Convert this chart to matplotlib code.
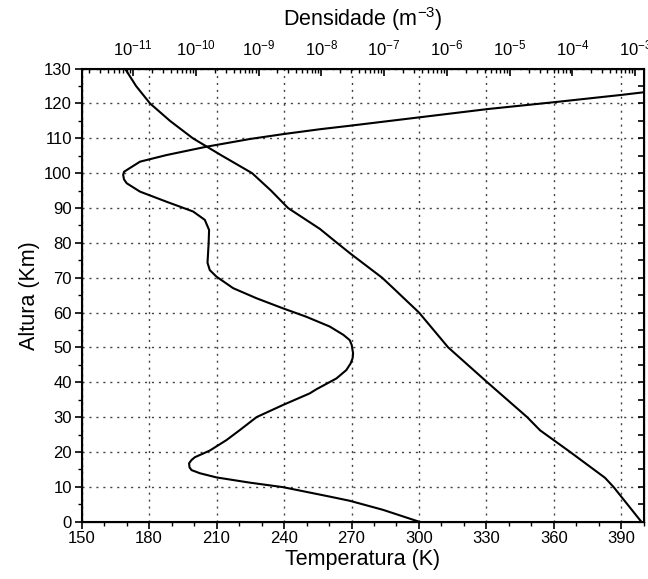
import numpy as np
import matplotlib.pyplot as plt
from matplotlib.ticker import MultipleLocator, FixedLocator, LogLocator, NullFormatter

plt.rcParams['font.family'] = ['Liberation Sans', 'DejaVu Sans']
plt.rcParams['mathtext.fontset'] = 'custom'
plt.rcParams['mathtext.rm'] = 'Liberation Sans'
plt.rcParams['mathtext.default'] = 'regular'

# temperature profile (K) vs altitude (km)
temp_alt = [0, 3.4, 6.0, 7.2, 9.9, 11.2, 12.7, 13.9, 14.8, 15.6, 16.75, 17.7, 18.5, 20.4, 23.4,
            26.3, 30.0, 33.5, 36.8, 38.0, 41.1, 43.5, 45.4, 46.9, 48.3, 50.7, 52.1, 53.6, 56.0,
            58.8, 61.2, 64.1, 67.0, 70.3, 72.2, 74.3, 79.9, 83.7, 86.6, 89.0, 91.8, 94.7, 97.1,
            98.2, 99.5, 100.4, 100.9, 103.3, 105.2, 107.6, 109.8, 111.2, 112.6, 113.6, 116.0,
            118.4, 120.4, 122.5, 123.6]
temp_val = [300, 284.0, 269.2, 260.3, 239.6, 224.8, 210.0, 202.6, 198.9, 198.0, 197.8, 198.9,
            200.4, 207.0, 214.4, 220.4, 227.8, 239.6, 251.4, 254.4, 263.3, 267.7, 269.6, 270.5,
            270.7, 270.1, 269.2, 266.4, 260.3, 249.9, 239.6, 227.8, 217.4, 210.0, 207.0, 206.0,
            206.5, 206.7, 204.8, 199.6, 187.8, 176.0, 170.1, 168.9, 168.5, 168.9, 170.1, 176.0,
            187.8, 205.6, 224.8, 239.6, 255.9, 269.2, 299.9, 330.6, 360.6, 390.6, 405.0]

# density profile (m^-3) vs altitude (km)
dens_alt = [0, 10, 12.6, 20, 26.2, 30, 40, 50, 60, 66.8, 70, 77, 80, 84, 90, 95, 100, 105,
            110, 115, 120, 125, 130]
dens_val = [1.25e-3, 4.5e-4, 3.3e-4, 9.2e-5, 3.06e-5, 1.9e-5, 4.4e-6, 1.05e-6, 3.6e-7, 1.44e-7,
            9.3e-8, 2.87e-8, 1.78e-8, 9.5e-9, 2.95e-9, 1.58e-9, 7.9e-10, 2.62e-10, 9.0e-11,
            3.89e-11, 1.87e-11, 1.12e-11, 7.46e-12]

dens_ticks = [1e-11, 1e-10, 1e-9, 1e-8, 1e-7, 1e-6, 1e-5, 1e-4, 1e-3]

fig = plt.figure(figsize=(6.48, 5.79), dpi=100)
ax = fig.add_axes([0.1258, 0.099, 0.868, 0.7825])

ax.plot(temp_val, temp_alt, color='black', lw=1.5)
ax.set_xlim(150, 400)
ax.set_ylim(0, 130)
ax.xaxis.set_major_locator(MultipleLocator(30))
ax.xaxis.set_minor_locator(MultipleLocator(10))
ax.yaxis.set_major_locator(MultipleLocator(10))
ax.yaxis.set_minor_locator(MultipleLocator(5))
ax.tick_params(axis='x', which='major', direction='out', length=5, width=1.2, labelsize=12, pad=2)
ax.tick_params(axis='x', which='minor', direction='out', length=3, width=1.0)
ax.tick_params(axis='y', which='major', direction='out', length=5, width=1.2, labelsize=12, pad=2)
ax.tick_params(axis='y', which='minor', direction='out', length=3, width=1.0)
ax.grid(True, which='major', linestyle=(0, (1.5, 3.5)), color='#444444', lw=1.0)
ax.set_xlabel('Temperatura (K)', fontsize=15.5, labelpad=2)
ax.set_ylabel('Altura (Km)', fontsize=15.5, labelpad=3)
for s in ax.spines.values():
    s.set_linewidth(1.5)

# right side: inward ticks, no labels
axr = ax.twinx()
axr.set_ylim(0, 130)
axr.yaxis.set_major_locator(MultipleLocator(5))
axr.tick_params(axis='y', which='major', direction='in', length=4, width=1.2, labelright=False)

ax2 = ax.twiny()
ax2.plot(dens_val, dens_alt, color='black', lw=1.5)
ax2.set_xscale('log')
ax2.set_xlim(10 ** -11.82, 10 ** -2.86)
ax2.xaxis.set_major_locator(FixedLocator(dens_ticks))
ax2.xaxis.set_minor_locator(LogLocator(base=10, subs=np.arange(2, 10), numticks=20))
ax2.xaxis.set_minor_formatter(NullFormatter())
ax2.tick_params(axis='x', which='major', direction='in', length=5, width=1.2, labelsize=12, pad=7)
ax2.tick_params(axis='x', which='minor', direction='in', length=3, width=1.0)
ax2.set_xlabel('Densidade (m$^{-3}$)', fontsize=15.5, labelpad=9)
ax2.set_ylim(0, 130)

fig.savefig('out.png', dpi=100)
